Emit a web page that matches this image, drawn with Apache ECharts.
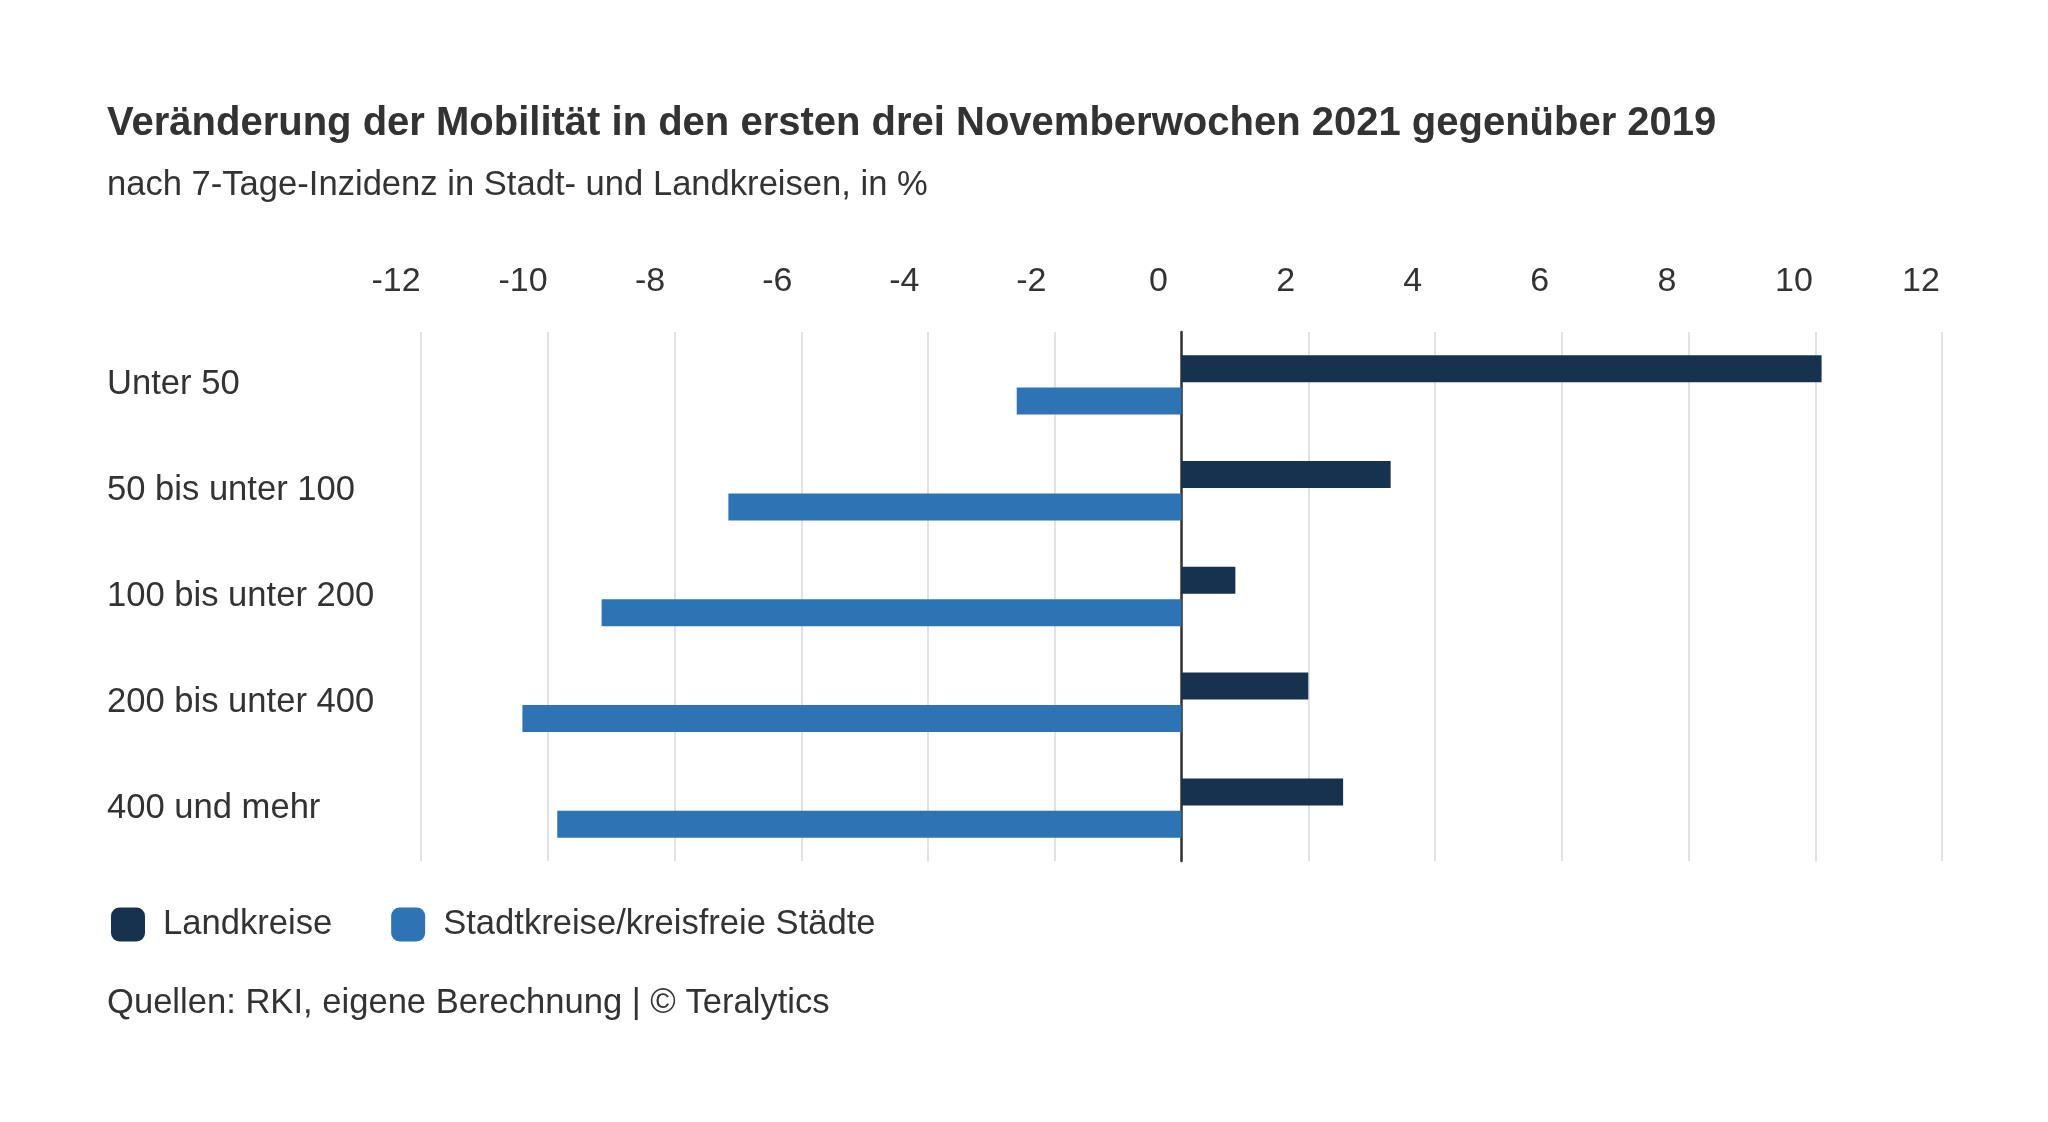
<!DOCTYPE html>
<html>
<head>
<meta charset="utf-8">
<script src="https://cdn.jsdelivr.net/npm/echarts@6/dist/echarts.min.js"></script>
<style>
  html, body { margin: 0; padding: 0; background: #fff; }
  #chart { width: 2048px; height: 1122px; }
</style>
</head>
<body>
<div id="chart"></div>
<script>
// Kategorien (7-Tage-Inzidenz)
const categories = ['Unter 50', '50 bis unter 100', '100 bis unter 200', '200 bis unter 400', '400 und mehr'];
// Veränderung der Mobilität in %
const landkreise = [10.1, 3.3, 0.85, 2.0, 2.55];
const stadtkreise = [-2.6, -7.15, -9.15, -10.4, -9.85];
const seriesNames = ['Landkreise', 'Stadtkreise/kreisfreie Städte'];
const tickMin = -12, tickMax = 12, tickStep = 2;

const font = "'Liberation Sans', Arial, sans-serif";
const textColor = '#333333';
const fs = 34.6;

var chart = echarts.init(document.getElementById('chart'), null, { renderer: 'canvas' });

var option = {
    backgroundColor: '#ffffff',
    animation: false,
    title: [{
        text: 'Veränderung der Mobilität in den ersten drei Novemberwochen 2021 gegenüber 2019',
        left: 107,
        top: 104,
        padding: 0,
        textStyle: { fontFamily: font, fontSize: 40, lineHeight: 40, fontWeight: 'bold', color: textColor }
    }, {
        text: 'nach 7-Tage-Inzidenz in Stadt- und Landkreisen, in %',
        left: 107,
        top: 168,
        padding: 0,
        textStyle: { fontFamily: font, fontSize: fs, lineHeight: 35, fontWeight: 'normal', color: textColor }
    }, {
        text: 'Quellen: RKI, eigene Berechnung | © Teralytics',
        left: 107,
        top: 986,
        padding: 0,
        textStyle: { fontFamily: font, fontSize: fs, lineHeight: 35, fontWeight: 'normal', color: textColor }
    }],
    legend: {
        data: seriesNames,
        left: 111,
        top: 907,
        padding: 0,
        icon: 'roundRect',
        itemWidth: 34,
        itemHeight: 34,
        itemGap: 59,
        textStyle: { fontFamily: font, fontSize: fs, color: textColor, padding: [0, 0, 0, 13] }
    },
    grid: [
        // Balken
        { left: 421, right: 106, top: 332, bottom: 261, containLabel: false },
        // Achsenbeschriftung oben
        { left: 396, right: 127, top: 332, bottom: 261, containLabel: false }
    ],
    xAxis: [{
        type: 'value',
        gridIndex: 0,
        min: tickMin,
        max: tickMax,
        interval: tickStep,
        axisLabel: { show: false },
        axisLine: { show: false },
        axisTick: { show: false },
        splitLine: { show: true, lineStyle: { color: '#d9d9d9', width: 1.5 } }
    }, {
        type: 'value',
        gridIndex: 1,
        position: 'top',
        min: tickMin,
        max: tickMax,
        interval: tickStep,
        axisLabel: { show: true, margin: 33, fontFamily: font, fontSize: 34, lineHeight: 34, color: textColor },
        axisLine: { show: false },
        axisTick: { show: false },
        splitLine: { show: false }
    }],
    yAxis: [{
        type: 'category',
        gridIndex: 0,
        data: categories,
        inverse: true,
        axisTick: { show: false },
        axisLine: { show: true, onZero: true, lineStyle: { color: '#333333', width: 2.5 } },
        axisLabel: {
            align: 'left',
            margin: 314,
            fontFamily: font,
            fontSize: fs,
            lineHeight: 35,
            padding: [0, 0, 8, 0],
            color: textColor
        },
        splitLine: { show: false }
    }, {
        type: 'value',
        gridIndex: 1,
        show: false
    }],
    series: [{
        name: seriesNames[0],
        type: 'bar',
        xAxisIndex: 0,
        yAxisIndex: 0,
        data: landkreise,
        barWidth: 27,
        barGap: '20%',
        itemStyle: { color: '#16324f' }
    }, {
        name: seriesNames[1],
        type: 'bar',
        xAxisIndex: 0,
        yAxisIndex: 0,
        data: stadtkreise,
        barWidth: 27,
        barGap: '20%',
        itemStyle: { color: '#2e74b5' }
    }]
};

chart.setOption(option);
</script>
</body>
</html>
